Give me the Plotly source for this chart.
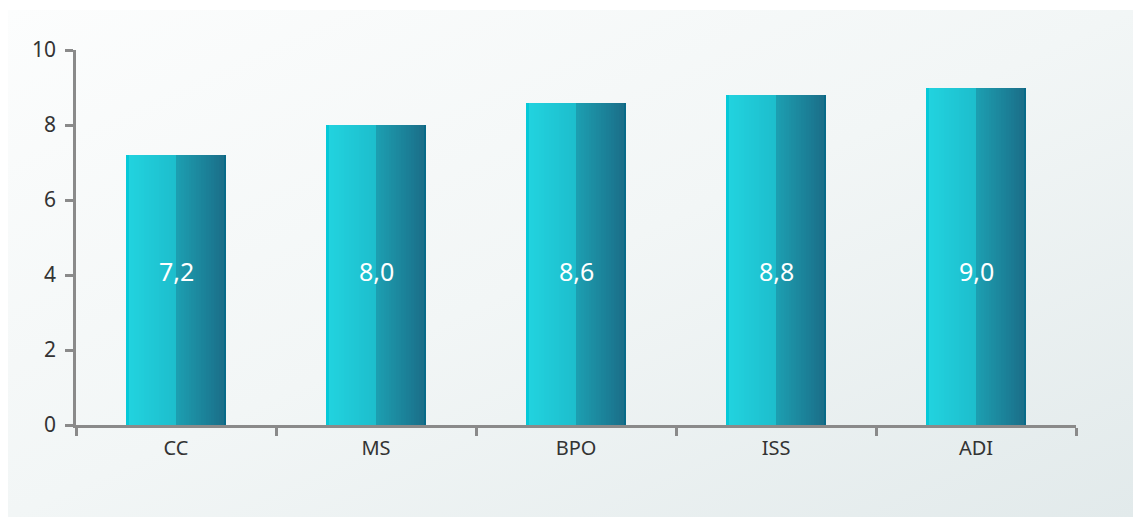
import base64
import plotly.graph_objects as go

# Chart data
categories = ["CC", "MS", "BPO", "ISS", "ADI"]
values = [7.2, 8.0, 8.6, 8.8, 9.0]
value_labels = ["7,2", "8,0", "8,6", "8,8", "9,0"]
y_ticks = [0, 2, 4, 6, 8, 10]

W, H = 1133, 517
M_L, M_R, M_T, M_B = 76, 57, 50, 92


def lerp(c1, c2, t):
    return "#%02x%02x%02x" % tuple(round(a + (b - a) * t) for a, b in zip(c1, c2))


def hex_rgb(h):
    h = h.lstrip("#")
    return tuple(int(h[i:i + 2], 16) for i in (0, 2, 4))


# Cylinder shading: vertical strips across each bar
BAR_W = 0.5
N = 40
strip_w = BAR_W / N
left_a, left_b = hex_rgb("#22d4e0"), hex_rgb("#1dbdcc")
right_a, right_b = hex_rgb("#1c9fb1"), hex_rgb("#1b6c87")

fig = go.Figure()
for i in range(N):
    t = (i + 0.5) / N
    if i == 0:
        col = "#05c9d8"
    elif i == N - 1:
        col = "#086a88"
    elif t < 0.5:
        col = lerp(left_a, left_b, t / 0.5)
    else:
        col = lerp(right_a, right_b, (t - 0.5) / 0.5)
    fig.add_trace(go.Bar(
        x=categories, y=values,
        width=strip_w * 1.06, offset=-BAR_W / 2 + i * strip_w,
        marker=dict(color=col, line=dict(width=0)),
        hoverinfo="skip", showlegend=False,
    ))

# Value labels inside the bars
for c, lab in zip(categories, value_labels):
    fig.add_annotation(x=c, y=4.1, text=lab, showarrow=False,
                       font=dict(family="Noto Sans", size=25, color="#ffffff"))

# Panel background with a soft diagonal gradient
svg = (
    '<svg xmlns="http://www.w3.org/2000/svg" width="1125" height="507" '
    'preserveAspectRatio="none">'
    '<defs><linearGradient id="g" x1="0" y1="0" x2="1" y2="1">'
    '<stop offset="0" stop-color="#fcfdfd"/>'
    '<stop offset="0.5" stop-color="#f2f6f6"/>'
    '<stop offset="1" stop-color="#e2eaeb"/>'
    '</linearGradient></defs>'
    '<rect width="1125" height="507" fill="url(#g)"/></svg>'
)
src = "data:image/svg+xml;base64," + base64.b64encode(svg.encode()).decode()
pw, ph = W - M_L - M_R, H - M_T - M_B
fig.add_layout_image(dict(
    source=src, xref="paper", yref="paper",
    x=(8 - M_L) / pw, y=(H - M_B - 10) / ph,
    sizex=(W - 8) / pw, sizey=(H - 10) / ph,
    xanchor="left", yanchor="top", sizing="stretch", layer="below",
))

axis_col = "#8a8a8a"
fig.update_layout(
    width=W, height=H,
    margin=dict(l=M_L, r=M_R, t=M_T, b=M_B),
    paper_bgcolor="#ffffff", plot_bgcolor="rgba(0,0,0,0)",
    barmode="overlay", bargap=0,
    showlegend=False,
    font=dict(family="Noto Sans", color="#333333"),
    xaxis=dict(
        type="category", range=[-0.5, 4.5],
        showline=True, linecolor=axis_col, linewidth=2.5,
        ticks="outside", tickson="boundaries", ticklen=8,
        tickwidth=2.5, tickcolor=axis_col,
        showgrid=False, zeroline=False,
        tickfont=dict(size=20, color="#333333"),
        ticklabelstandoff=3,
        fixedrange=True,
    ),
    yaxis=dict(
        range=[0, 10], tickvals=y_ticks,
        showline=True, linecolor=axis_col, linewidth=2.5,
        ticks="outside", ticklen=8, tickwidth=2.5, tickcolor=axis_col,
        showgrid=False, zeroline=False,
        tickfont=dict(size=21, color="#333333"),
        ticklabelstandoff=5,
        fixedrange=True,
    ),
)

fig.write_html("out.html")
